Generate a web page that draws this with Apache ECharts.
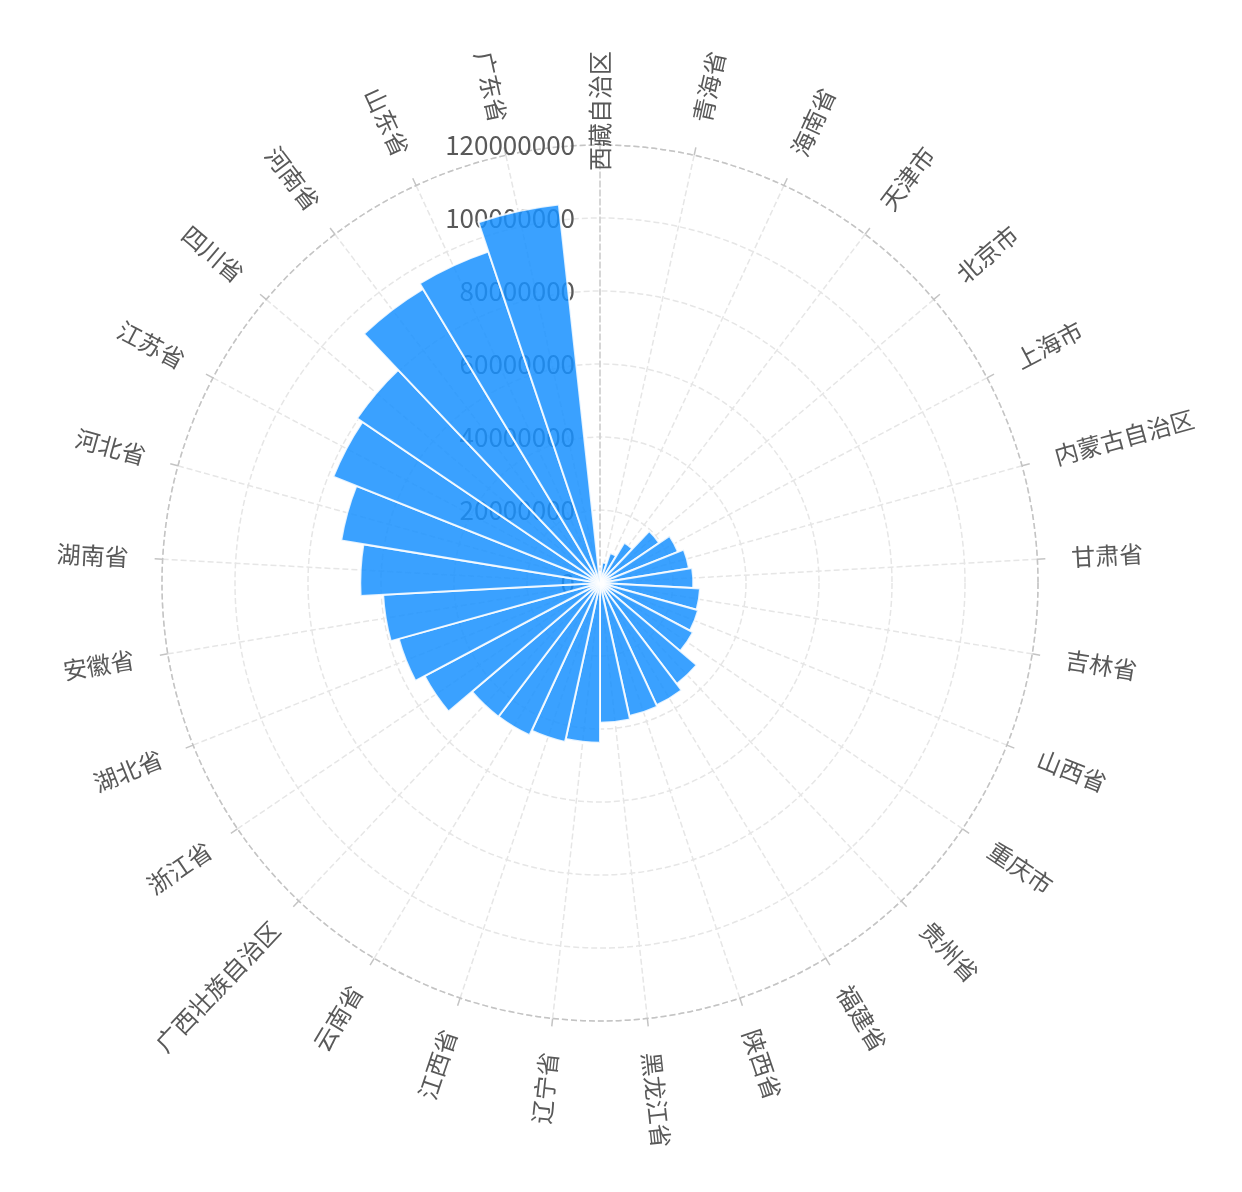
<!DOCTYPE html>
<html>
<head>
<meta charset="utf-8">
<script src="https://cdn.jsdelivr.net/npm/echarts@6/dist/echarts.min.js"></script>
<style>
html,body{margin:0;padding:0;background:#fff;}
#main{width:1242px;height:1192px;}
</style>
</head>
<body>
<div id="main"></div>
<script>
const provinces = ['西藏自治区','青海省','海南省','天津市','北京市','上海市','内蒙古自治区','甘肃省','吉林省','山西省','重庆市','贵州省','福建省','陕西省','黑龙江省','辽宁省','江西省','云南省','广西壮族自治区','浙江省','湖北省','安徽省','湖南省','河北省','江苏省','四川省','河南省','山东省','广东省'];
const population = [3002166, 5626722, 8671518, 12938224, 19612368, 23019148, 24706321, 25575254, 27462297, 27900000, 28846170, 34746468, 36894216, 37327378, 38312224, 43746323, 44567475, 45966239, 46026629, 54426891, 57237740, 59500510, 65683722, 71854202, 78659903, 80418200, 94023567, 95793065, 104303132];
const radiusMax = 120000000;
const radiusStep = 20000000;

const CENTER = [600, 583];
const RADIUS = 438;
const LABEL_GAP = 34;              // px between outer circle and label anchor
const labelRadiusValue = radiusMax * (RADIUS + LABEL_GAP) / RADIUS;
const band = 360 / provinces.length;
const TEXT = '#595959';
const FONT = 'Noto Sans CJK SC';

// Radial label styling, derived from the category index
const labelData = provinces.map(function (name, i) {
  let theta = 90 - i * band;               // degrees, counter-clockwise from +x
  while (theta <= -180) theta += 360;
  while (theta > 180) theta -= 360;
  let align, rotate;
  if (Math.abs(theta - 90) < 1e-6) { align = 'center'; rotate = 90; }
  else if (Math.cos(theta * Math.PI / 180) > 0) { align = 'left'; rotate = theta; }
  else { align = 'right'; rotate = theta > 0 ? theta - 180 : theta + 180; }
  return {
    value: [labelRadiusValue, name],
    label: { align: align, rotate: rotate }
  };
});

const chart = echarts.init(document.getElementById('main'));
chart.setOption({
  animation: false,
  polar: [
    { center: CENTER, radius: RADIUS },
    { center: CENTER, radius: RADIUS }
  ],
  angleAxis: [{
    polarIndex: 0,
    type: 'category',
    data: provinces,
    startAngle: 90 + band / 2,
    clockwise: true,
    axisLine: { lineStyle: { color: '#c4c4c4', type: 'dashed', width: 1.5 } },
    axisTick: { alignWithLabel: true, length: 8, lineStyle: { color: '#c4c4c4', width: 1.5 } },
    splitLine: { show: true, lineStyle: { color: '#e6e6e6', type: 'dashed', width: 1.5 } },
    axisLabel: { show: false }
  }, {
    polarIndex: 1,
    type: 'value',
    min: 0,
    max: 360,
    startAngle: 90,
    show: false,
    axisLine: { show: false },
    axisTick: { show: false },
    splitLine: { show: false },
    axisLabel: { show: false }
  }],
  radiusAxis: [{
    polarIndex: 0,
    type: 'value',
    min: 0,
    max: radiusMax,
    show: false,
    splitLine: { show: false }
  }, {
    polarIndex: 1,
    type: 'value',
    min: 0,
    max: radiusMax,
    interval: radiusStep,
    axisLine: { lineStyle: { color: '#cfcfcf', type: 'dashed', width: 1.5 } },
    axisTick: { show: false },
    splitLine: { show: true, lineStyle: { color: '#e6e6e6', type: 'dashed', width: 1.5 } },
    axisLabel: {
      margin: 25, fontSize: 26, color: TEXT, fontFamily: FONT,
      formatter: function (v) { return String(v); }
    }
  }],
  series: [{
    type: 'bar',
    coordinateSystem: 'polar',
    polarIndex: 0,
    data: population,
    barCategoryGap: '0%',
    itemStyle: { color: '#1890ff', opacity: 0.85, borderColor: '#fff', borderWidth: 2 }
  }, {
    type: 'scatter',
    coordinateSystem: 'polar',
    polarIndex: 0,
    clip: false,
    silent: true,
    symbolSize: 1,
    itemStyle: { color: 'rgba(0,0,0,0)' },
    data: labelData,
    label: {
      show: true,
      position: 'inside',
      verticalAlign: 'middle',
      opacity: 1,
      color: TEXT,
      fontSize: 24,
      fontFamily: FONT,
      formatter: function (p) { return p.value[1]; }
    },
    z: 5
  }]
});
</script>
</body>
</html>
